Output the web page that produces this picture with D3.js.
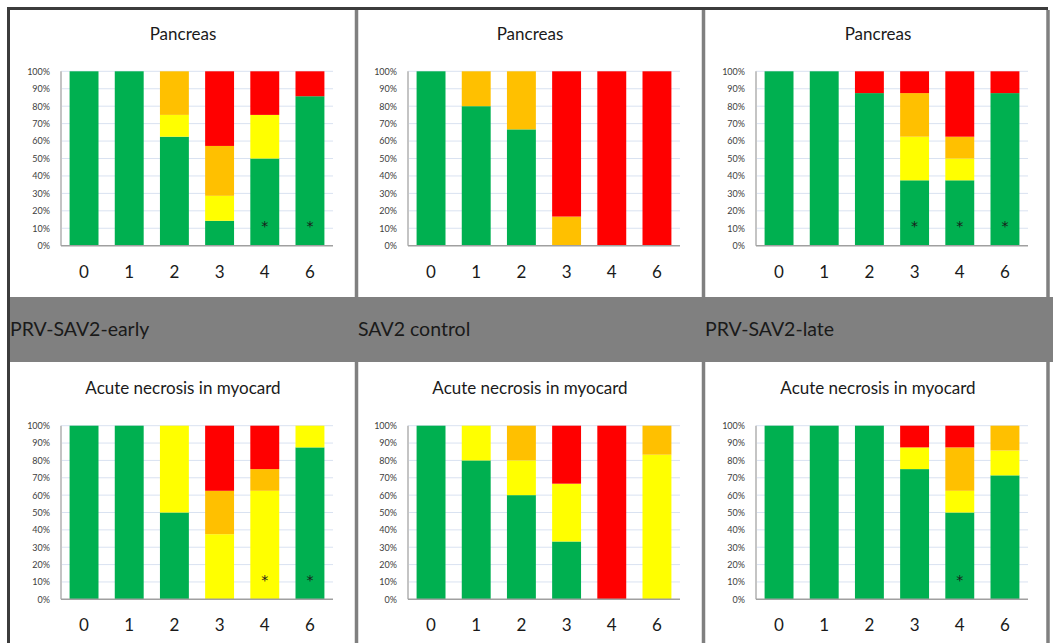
<!DOCTYPE html>
<html>
<head>
<meta charset="utf-8">
<script src="https://cdn.jsdelivr.net/npm/d3@7"></script>
<style>
  body { margin: 0; background: #fff; }
  svg text { font-family: Lato, "Open Sans", sans-serif; }
</style>
</head>
<body>
<svg id="chart" width="1053" height="643"></svg>
<script>
// days after challenge (x categories)
const days = ["0", "1", "2", "3", "4", "6"];
const groups = ["PRV-SAV2-early", "SAV2 control", "PRV-SAV2-late"];
const titles = ["Pancreas", "Acute necrosis in myocard"];
const scoreKeys = ["green", "yellow", "orange", "red"];
const scoreColors = ["#00b050", "#ffff00", "#ffc000", "#ff0000"];

// % of fish per score, rows = green, yellow, orange, red
const pancreasEarly = [
  [100, 100, 62.5, 14.3, 50, 85.7],
  [0, 0, 12.5, 14.3, 25, 0],
  [0, 0, 25, 28.6, 0, 0],
  [0, 0, 0, 42.8, 25, 14.3]
];
const pancreasControl = [
  [100, 80, 66.7, 0, 0, 0],
  [0, 0, 0, 0, 0, 0],
  [0, 20, 33.3, 16.7, 0, 0],
  [0, 0, 0, 83.3, 100, 100]
];
const pancreasLate = [
  [100, 100, 87.5, 37.5, 37.5, 87.5],
  [0, 0, 0, 25, 12.5, 0],
  [0, 0, 0, 25, 12.5, 0],
  [0, 0, 12.5, 12.5, 37.5, 12.5]
];
const necrosisEarly = [
  [100, 100, 50, 0, 0, 87.5],
  [0, 0, 50, 37.5, 62.5, 12.5],
  [0, 0, 0, 25, 12.5, 0],
  [0, 0, 0, 37.5, 25, 0]
];
const necrosisControl = [
  [100, 80, 60, 33.3, 0, 0],
  [0, 20, 20, 33.3, 0, 83.3],
  [0, 0, 20, 0, 0, 16.7],
  [0, 0, 0, 33.4, 100, 0]
];
const necrosisLate = [
  [100, 100, 100, 75, 50, 71.4],
  [0, 0, 0, 12.5, 12.5, 14.3],
  [0, 0, 0, 0, 25, 14.3],
  [0, 0, 0, 12.5, 12.5, 0]
];

// significance marks (*) per chart
const pancreasEarlyStars = ["4", "6"];
const pancreasControlStars = [];
const pancreasLateStars = ["3", "4", "6"];
const necrosisEarlyStars = ["4", "6"];
const necrosisControlStars = [];
const necrosisLateStars = ["4"];

const width = 1053, height = 643;
const svg = d3.select("#chart");

// panel layout
const colX = [61, 408, 756];
const plotW = 272;
const rows = [
  {top: 71.3, bottom: 245.7, titleY: 40, data: [pancreasEarly, pancreasControl, pancreasLate],
   stars: [pancreasEarlyStars, pancreasControlStars, pancreasLateStars]},
  {top: 425.7, bottom: 599.3, titleY: 394, data: [necrosisEarly, necrosisControl, necrosisLate],
   stars: [necrosisEarlyStars, necrosisControlStars, necrosisLateStars]}
];

// frame
svg.append("line").attr("x1", 7).attr("x2", 1048).attr("y1", 8.5).attr("y2", 8.5)
  .attr("stroke", "#3c3c3c").attr("stroke-width", 3);
svg.append("line").attr("x1", 8.5).attr("x2", 8.5).attr("y1", 7).attr("y2", height)
  .attr("stroke", "#3c3c3c").attr("stroke-width", 3);
[356.5, 703.5, 1048].forEach(x => {
  svg.append("line").attr("x1", x).attr("x2", x).attr("y1", 10).attr("y2", height)
    .attr("stroke", "#808080").attr("stroke-width", 3.5);
});

rows.forEach((row, ri) => {
  row.data.forEach((series, ci) => {
    const x0 = colX[ci];
    const g = svg.append("g");

    const x = d3.scaleBand().domain(days).range([x0, x0 + plotW])
      .paddingInner(0.36).paddingOuter(0.19);
    const y = d3.scaleLinear().domain([0, 1]).range([row.bottom, row.top]);

    // title
    g.append("text")
      .attr("x", x0 + plotW / 2 - 14)
      .attr("y", row.titleY)
      .attr("text-anchor", "middle")
      .attr("font-size", 17)
      .attr("fill", "#1a1a1a")
      .text(titles[ri]);

    // gridlines
    g.selectAll(".grid").data(y.ticks(10).filter(d => d > 0)).enter()
      .append("line")
      .attr("x1", x0).attr("x2", x0 + plotW)
      .attr("y1", d => y(d)).attr("y2", d => y(d))
      .attr("stroke", "#d9e2f1").attr("stroke-width", 1);

    // stacked bars
    const table = days.map((d, i) => {
      const r = {day: d};
      scoreKeys.forEach((k, j) => { r[k] = series[j][i] / 100; });
      return r;
    });
    const stacked = d3.stack().keys(scoreKeys)(table);
    g.selectAll(".layer").data(stacked).enter()
      .append("g")
      .attr("fill", (d, i) => scoreColors[i])
      .selectAll("rect").data(d => d).enter()
      .append("rect")
      .attr("x", d => x(d.data.day))
      .attr("width", x.bandwidth())
      .attr("y", d => y(Math.min(1, d[1])))
      .attr("height", d => y(d[0]) - y(Math.min(1, d[1])));

    // asterisks
    g.selectAll(".star").data(row.stars[ci]).enter()
      .append("text")
      .attr("x", d => x(d) + x.bandwidth() / 2)
      .attr("y", y(0.13) + 8)
      .attr("text-anchor", "middle")
      .attr("font-size", 14)
      .attr("fill", "#1a1a1a")
      .style("font-family", "'DejaVu Sans', sans-serif")
      .text("*");

    // y axis
    const yAxis = g.append("g")
      .attr("transform", `translate(${x0},0)`)
      .call(d3.axisLeft(y).ticks(10).tickFormat(d3.format(".0%")).tickSize(0).tickPadding(11));
    yAxis.select(".domain").remove();
    yAxis.selectAll("text").attr("font-size", 9).attr("fill", "#404040")
      .style("font-family", "Lato, sans-serif");
    g.append("line").attr("x1", x0).attr("x2", x0)
      .attr("y1", row.top).attr("y2", row.bottom)
      .attr("stroke", "#c4c4c4").attr("stroke-width", 2);

    // x axis
    const xAxis = g.append("g")
      .attr("transform", `translate(0,${row.bottom})`)
      .call(d3.axisBottom(x).tickSize(0).tickPadding(20));
    xAxis.select(".domain").remove();
    xAxis.selectAll("text").attr("font-size", 17).attr("fill", "#1a1a1a")
      .style("font-family", "Lato, sans-serif");
    g.append("line").attr("x1", x0).attr("x2", x0 + plotW)
      .attr("y1", row.bottom).attr("y2", row.bottom)
      .attr("stroke", "#a0a0a0").attr("stroke-width", 1.5);
  });
});

// grey band with group names
svg.append("rect").attr("x", 10).attr("y", 297).attr("width", width - 10).attr("height", 65)
  .attr("fill", "#808080");
svg.selectAll(".group").data(groups).enter()
  .append("text")
  .attr("x", (d, i) => [10, 358, 705][i])
  .attr("y", 336)
  .attr("font-size", 19.5)
  .attr("fill", "#1a1a1a")
  .text(d => d);
</script>
</body>
</html>
